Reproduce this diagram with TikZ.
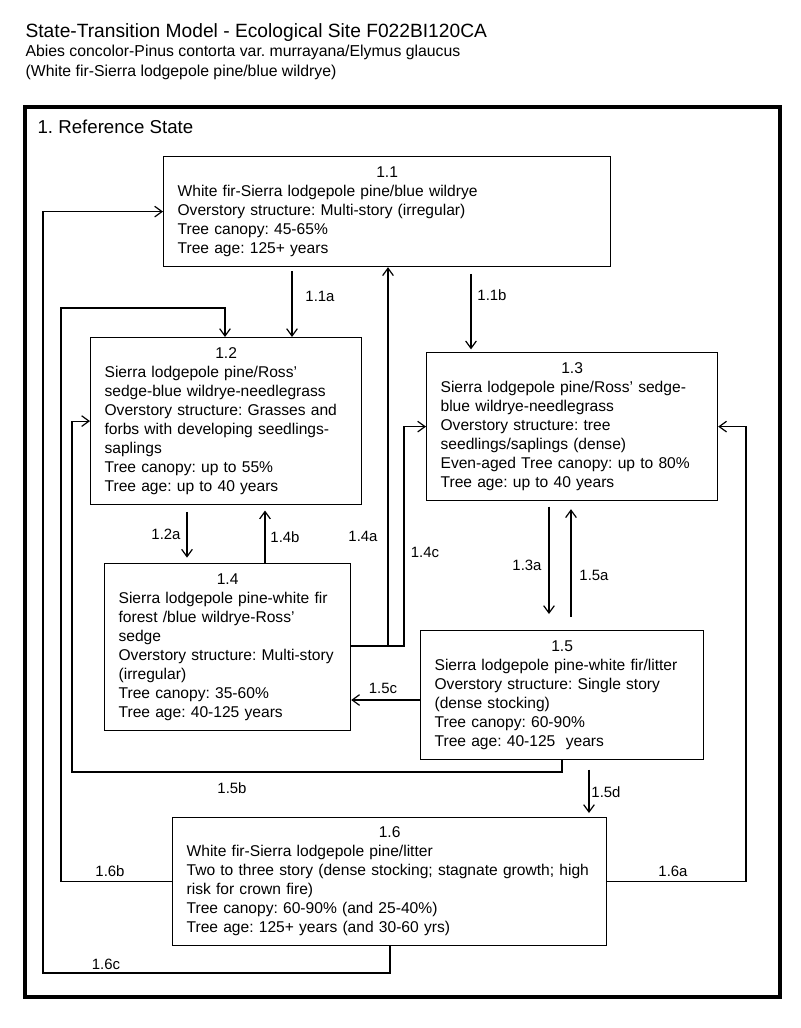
\documentclass[tikz,border=0pt]{standalone}
\usepackage{fontspec}
\setmainfont{Liberation Sans}
\usetikzlibrary{arrows.meta}
\setlength{\parindent}{0pt}
\frenchspacing

\begin{document}
\begin{tikzpicture}[x=0.75pt, y=-0.75pt, line width=0.9pt,
    >={Straight Barb[length=5.5pt,width=8pt]},
    phase/.style={draw, anchor=north west, align=left, inner xsep=10.5pt, inner ysep=2pt,
      font=\fontsize{11.7}{14.25}\selectfont},
    trlab/.style={inner sep=0pt, font=\fontsize{11.2}{13}\selectfont},
    heading/.style={anchor=base west, inner sep=0pt}]
\useasboundingbox (0,0) rectangle (800,1028);

% titles
\node[heading, font=\fontsize{14.4}{17}\selectfont] (title) at (25,37) {State-Transition Model - Ecological Site F022BI120CA};
\node[heading, font=\fontsize{11.85}{15}\selectfont] (sub1) at (25,56.5) {Abies concolor-Pinus contorta var. murrayana/Elymus glaucus};
\node[heading, font=\fontsize{11.85}{15}\selectfont] (sub2) at (25,76) {(White fir-Sierra lodgepole pine/blue wildrye)};

% state frame
\draw[line width=3pt] (25,107) rectangle (780,997);
\node[heading, font=\fontsize{14}{17}\selectfont] (refstate) at (37,133) {1. Reference State};

% phases
\node[phase, text width=314.25pt, minimum height=82.5pt] (b11) at (163,156)
  {{\centering 1.1\par}White fir-Sierra lodgepole pine/blue wildrye\\Overstory structure: Multi-story (irregular)\\Tree canopy: 45-65\%\\Tree age: 125+ years};
\node[phase, text width=182.25pt, minimum height=125.25pt] (b12) at (90,337)
  {{\centering 1.2\par}Sierra lodgepole pine/Ross'\\sedge-blue wildrye-needlegrass\\Overstory structure: Grasses and\\forbs with developing seedlings-\\saplings\\Tree canopy: up to 55\%\\Tree age: up to 40 years};
\node[phase, text width=197.25pt, minimum height=111pt] (b13) at (426,352)
  {{\centering 1.3\par}Sierra lodgepole pine/Ross' sedge-\\blue wildrye-needlegrass\\Overstory structure: tree\\seedlings/saplings (dense)\\Even-aged Tree canopy: up to 80\%\\Tree age: up to 40 years};
\node[phase, text width=163.5pt, minimum height=125.25pt] (b14) at (104,563)
  {{\centering 1.4\par}Sierra lodgepole pine-white fir\\forest /blue wildrye-Ross'\\sedge\\Overstory structure: Multi-story\\(irregular)\\Tree canopy: 35-60\%\\Tree age: 40-125 years};
\node[phase, text width=191.25pt, minimum height=96.75pt] (b15) at (420,630)
  {{\centering 1.5\par}Sierra lodgepole pine-white fir/litter\\Overstory structure: Single story\\(dense stocking)\\Tree canopy: 60-90\%\\Tree age: 40-125\ \ years};
\node[phase, text width=304.5pt, minimum height=96pt] (b16) at (172,817)
  {{\centering 1.6\par}White fir-Sierra lodgepole pine/litter\\Two to three story (dense stocking; stagnate growth; high\\risk for crown fire)\\Tree canopy: 60-90\% (and 25-40\%)\\Tree age: 125+ years (and 30-60 yrs)};

% transitions
\draw[->, shorten <=3pt] (b11.south -| 292,0) -- (b12.north -| 292,0);
\draw[->, shorten <=5pt, shorten >=2pt] (b11.south -| 471,0) -- (b13.north -| 471,0);
\draw[->, shorten <=5pt, shorten >=4pt] (b12.south -| 187,0) -- (b14.north -| 187,0);
\draw[->, shorten >=4pt] (b14.north -| 265,0) -- (b12.south -| 265,0);
\draw[->] (b14.east |- 0,646) -| (b11.south -| 388,0);
\draw[->] (b14.east |- 0,646) -- (404,646) |- (b13.west);
\draw[->, shorten <=4pt, shorten >=12pt] (b13.south -| 549,0) -- (b15.north -| 549,0);
\draw[->, shorten <=10pt, shorten >=6pt] (b15.north -| 571,0) -- (b13.south -| 571,0);
\draw[->] (b15.west |- 0,700) -- (b14.east |- 0,700);
\draw[->] (b15.south -| 562,0) |- (72,772) |- (b12.west);
\draw[->, shorten <=7pt, shorten >=3pt] (b15.south -| 589,0) -- (b16.north -| 589,0);
\draw[->] (b16.east) -| (b13.east -| 746,0) -- (b13.east);
\draw[->] (b16.west) -| (61,308) -| (b12.north -| 225,0);
\draw[->] (b16.south -| 390,0) |- (43,973) |- (b11.west);

% transition labels
\node[trlab] (l11a) at (320,296) {1.1a};
\node[trlab] (l11b) at (492,295) {1.1b};
\node[trlab] (l12a) at (166,534) {1.2a};
\node[trlab] (l14b) at (285,537) {1.4b};
\node[trlab] (l14a) at (363,536) {1.4a};
\node[trlab] (l14c) at (425,552) {1.4c};
\node[trlab] (l13a) at (527,565) {1.3a};
\node[trlab] (l15a) at (594,575) {1.5a};
\node[trlab] (l15c) at (383,688) {1.5c};
\node[trlab] (l15b) at (232,788) {1.5b};
\node[trlab] (l15d) at (606,792) {1.5d};
\node[trlab] (l16b) at (110,871) {1.6b};
\node[trlab] (l16a) at (673,871) {1.6a};
\node[trlab] (l16c) at (106,964) {1.6c};
\end{tikzpicture}
\end{document}
